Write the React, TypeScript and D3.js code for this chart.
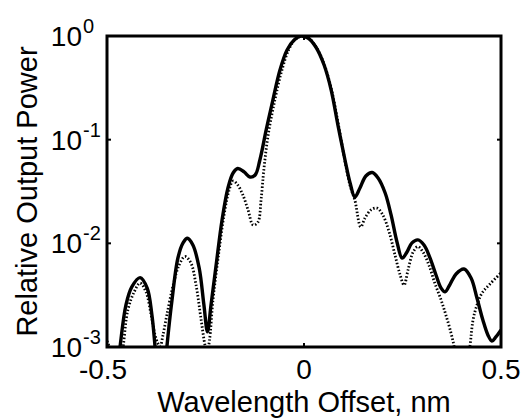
import React from "react";
import * as d3 from "d3";

// Solid curve: wavelength offset (nm) and relative output power
const solidOffset = [
  -0.477, -0.467, -0.452, -0.437, -0.416, -0.398, -0.386, -0.378, -0.371, -0.363,
  -0.355, -0.348, -0.335, -0.32, -0.307, -0.296, -0.282, -0.266, -0.254, -0.245,
  -0.236, -0.223, -0.208, -0.193, -0.18, -0.168, -0.152, -0.137, -0.124, -0.112,
  -0.096, -0.079, -0.061, -0.043, -0.025, -0.008, 0.01, 0.03, 0.051, 0.069,
  0.086, 0.104, 0.117, 0.129, 0.142, 0.157, 0.173, 0.188, 0.206, 0.221,
  0.236, 0.249, 0.261, 0.274, 0.289, 0.305, 0.32, 0.335, 0.348, 0.358,
  0.371, 0.386, 0.406, 0.424, 0.439, 0.454, 0.467, 0.477, 0.487, 0.5,
];
const solidPower = [
  0.00048, 0.001, 0.00254, 0.0038, 0.00467, 0.0037, 0.00204, 0.001, 0.00048, 0.0003,
  0.00048, 0.001, 0.00284, 0.00722, 0.0101, 0.0112, 0.00964, 0.00578, 0.00254, 0.0014,
  0.00254, 0.00618, 0.0168, 0.0342, 0.0477, 0.0527, 0.0488, 0.0436, 0.0456, 0.0637,
  0.124, 0.241, 0.47, 0.733, 0.915, 1.0, 0.956, 0.783, 0.525, 0.301,
  0.139, 0.0637, 0.0382, 0.028, 0.0342, 0.0446, 0.0482, 0.0427, 0.0306, 0.0188,
  0.0103, 0.0072, 0.0082, 0.0101, 0.0108, 0.0096, 0.0072, 0.00495, 0.0037, 0.0034,
  0.00405, 0.00506, 0.00565, 0.00463, 0.00297, 0.00182, 0.0013, 0.00114, 0.00125, 0.00146,
];

// Dotted curve
const dottedOffset = [
  -0.5, -0.487, -0.478, -0.47, -0.459, -0.447, -0.431, -0.416, -0.401, -0.388,
  -0.378, -0.371, -0.365, -0.358, -0.348, -0.332, -0.317, -0.302, -0.287, -0.274,
  -0.261, -0.251, -0.246, -0.24, -0.231, -0.218, -0.203, -0.19, -0.18, -0.168,
  -0.155, -0.142, -0.129, -0.117, -0.109, -0.102, -0.091, -0.074, -0.056, -0.038,
  -0.022, -0.006, 0.012, 0.032, 0.053, 0.071, 0.088, 0.104, 0.117, 0.129,
  0.144, 0.155, 0.17, 0.185, 0.2, 0.216, 0.231, 0.244, 0.254, 0.264,
  0.277, 0.289, 0.302, 0.317, 0.332, 0.348, 0.36, 0.373, 0.383, 0.401,
  0.421, 0.429, 0.439, 0.452, 0.472, 0.5,
];
const dottedPower = [
  0.00114, 0.00084, 0.0005, 0.00048, 0.001, 0.00228, 0.0034, 0.00414, 0.0034, 0.00204,
  0.0013, 0.00109, 0.00102, 0.0013, 0.00204, 0.00396, 0.00618, 0.00746, 0.00646, 0.00396,
  0.00182, 0.00103, 0.00089, 0.00115, 0.00284, 0.00722, 0.0187, 0.0327, 0.0399, 0.0365,
  0.0292, 0.021, 0.015, 0.016, 0.0262, 0.051, 0.111, 0.241, 0.47, 0.75,
  0.93, 1.0, 0.95, 0.77, 0.51, 0.29, 0.135, 0.062, 0.036, 0.0262,
  0.0144, 0.0176, 0.021, 0.0219, 0.0188, 0.0129, 0.0077, 0.00495, 0.00396, 0.00553,
  0.00824, 0.0093, 0.00824, 0.00618, 0.00414, 0.00284, 0.00204, 0.00137, 0.00092, 0.0003,
  0.001, 0.00182, 0.00254, 0.00332, 0.00405, 0.00518,
];

const xTicks = [-0.5, 0, 0.5];
const xTickLabels = ["-0.5", "0", "0.5"];
const yTicks = [1, 0.1, 0.01, 0.001];
const yTickExponents = ["0", "-1", "-2", "-3"];

const W = 522;
const H = 419;
const M = { left: 107, right: 21, top: 36, bottom: 72 };
const FONT = "'Liberation Sans', Arial, Helvetica, sans-serif";

export default function App() {
  const x = d3.scaleLinear().domain([-0.5, 0.5]).range([M.left, W - M.right]);
  const y = d3.scaleLog().domain([0.001, 1]).range([H - M.bottom, M.top]);

  const line = d3
    .line<[number, number]>()
    .x((d) => x(d[0]))
    .y((d) => y(d[1]))
    .curve(d3.curveCatmullRom.alpha(0.5));

  const solid = solidOffset.map((o, i) => [o, solidPower[i]] as [number, number]);
  const dotted = dottedOffset.map((o, i) => [o, dottedPower[i]] as [number, number]);

  const x0 = x(-0.5), x1 = x(0.5), y0 = y(0.001), y1 = y(1);

  return (
    <svg
      width={W}
      height={H}
      style={{ position: "absolute", left: 0, top: 0, background: "#fff" }}
      fontFamily={FONT}
    >
      <defs>
        <clipPath id="plotClip">
          <rect x={x0} y={y1} width={x1 - x0} height={y0 - y1} />
        </clipPath>
      </defs>
      <g clipPath="url(#plotClip)">
        <path
          d={line(dotted) || ""}
          fill="none"
          stroke="#000"
          strokeWidth={2.8}
          strokeDasharray="1.5 2"
        />
        <path d={line(solid) || ""} fill="none" stroke="#000" strokeWidth={3.4} strokeLinejoin="round" />
      </g>
      {/* ticks */}
      {yTicks.map((t) => (
        <g key={"yt" + t}>
          <line x1={x0} x2={x0 + 4} y1={y(t)} y2={y(t)} stroke="#000" strokeWidth={2} />
          <line x1={x1} x2={x1 - 4} y1={y(t)} y2={y(t)} stroke="#000" strokeWidth={2} />
        </g>
      ))}
      {xTicks.map((t) => (
        <g key={"xt" + t}>
          <line x1={x(t)} x2={x(t)} y1={y0} y2={y0 - 4} stroke="#000" strokeWidth={2} />
          <line x1={x(t)} x2={x(t)} y1={y1} y2={y1 + 4} stroke="#000" strokeWidth={2} />
        </g>
      ))}
      <rect x={x0} y={y1} width={x1 - x0} height={y0 - y1} fill="none" stroke="#000" strokeWidth={3} />
      {/* y tick labels */}
      {yTicks.map((t, i) => (
        <text key={"yl" + t} x={x0 - 25} y={y(t) + 10} textAnchor="end" fontSize={28} fill="#000">
          10
          <tspan x={x0 - 24} dy={-13} fontSize={20} textAnchor="start">
            {yTickExponents[i]}
          </tspan>
        </text>
      ))}
      {/* x tick labels */}
      {xTicks.map((t, i) => (
        <text key={"xl" + t} x={x(t) - (i === 0 ? 4 : 0)} y={y0 + 32} textAnchor="middle" fontSize={28} fill="#000">
          {xTickLabels[i]}
        </text>
      ))}
      <text x={(x0 + x1) / 2} y={412} textAnchor="middle" fontSize={29} fill="#000">
        Wavelength Offset, nm
      </text>
      <text
        transform={`translate(37, ${(y0 + y1) / 2}) rotate(-90)`}
        textAnchor="middle"
        fontSize={29}
        fill="#000"
      >
        Relative Output Power
      </text>
    </svg>
  );
}
